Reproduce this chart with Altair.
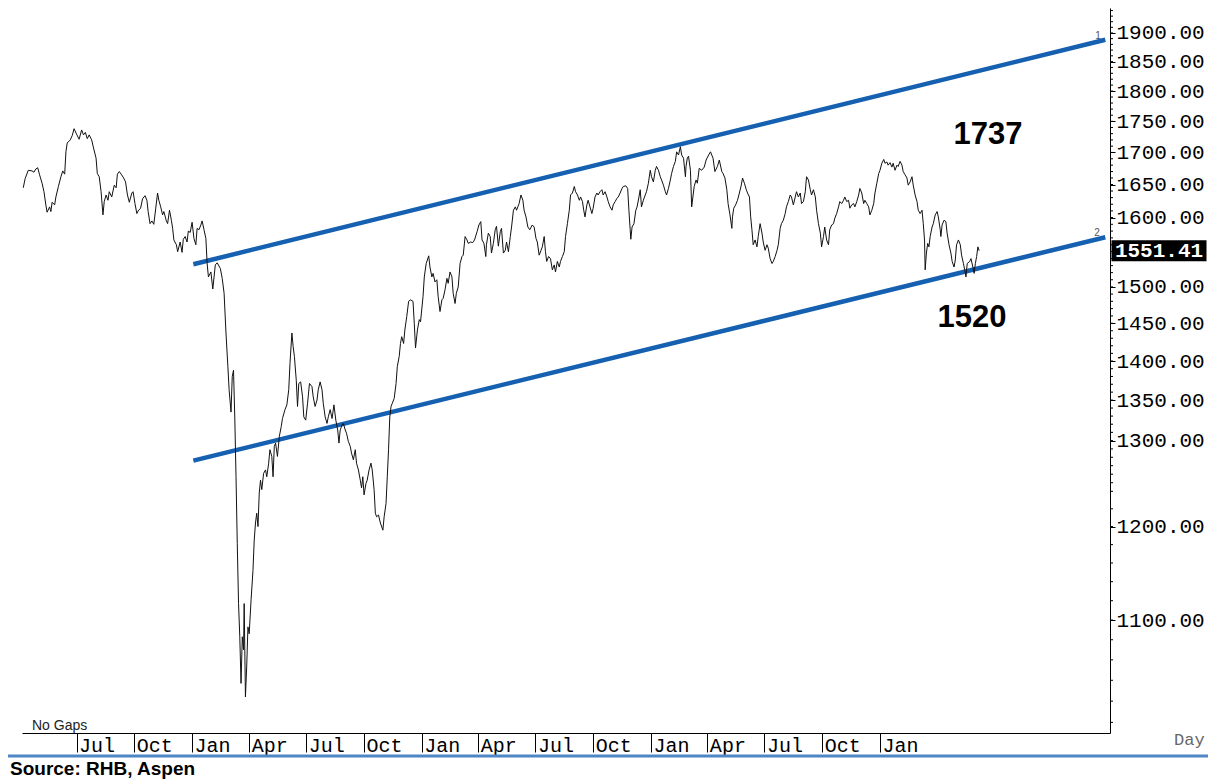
import altair as alt
import pandas as pd

# ---------------- data ----------------
# x positions are calendar-day offsets from 2020-01-01, values are index levels
seg1_days = [-269,-266,-261,-255,-252,-249,-246,-243,-239,-236,-233,-231,-227,-225,-223,-219,-217,-213,-209,-206,
             -203,-201,-199,-194,-191,-188,-184,-180,-176,-173,-170,-167,-164,-160,-157,-153,-151,-148,-145,-142,
             -140,-137,-134,-132,-128,-124,-121,-119,-116,-113,-109,-106,-103,-100,-96,-94,-91,-88,-86,-82,
             -79,-75,-72,-70,-67,-64,-61,-58,-55,-53,-50,-47,-45,-41,-39,-36,-33,-31,-29,-25,
             -23,-19,-16,-14,-11,-8,-6,-3,0,3,6,8,11,14,16,19,22]
seg1_vals = [1645,1659,1672,1671,1669,1674,1676,1665,1652,1639,1619,1608,1616,1609,1623,1619,1631,1647,1662,1671,
             1666,1701,1715,1720,1727,1738,1729,1721,1736,1728,1732,1722,1728,1720,1707,1691,1667,1662,1639,1604,
             1624,1634,1626,1639,1631,1649,1645,1666,1670,1666,1660,1654,1634,1623,1637,1639,1621,1606,1610,1614,
             1628,1633,1626,1609,1591,1595,1590,1613,1637,1626,1616,1604,1609,1595,1591,1611,1596,1584,1567,1560,
             1550,1564,1549,1568,1572,1564,1580,1578,1593,1569,1560,1584,1582,1589,1595,1582,1569]

seg2_days = [24,26,30,33,37,40,45,48,51,54,57,59,62,64,66,68,70,72,74,76,
             78,80,82,83,85,87,89,91,94,97,99,101,103,105,107,109,111,114,117,119,
             122,124,127,129,131,133,136,139,142,144,148,151,154,156,159,161,163,166,168,170,
             173,176,178,181,184,187,191,193,196,199,201,204,207,209,212,215,217,220,223,226,
             229,232,234,236,239,241,244,246,249,252,254,257,260,262,265,268,270,272,274,277,
             279,282,285,287,290,292,294,297,300,304,306,309,311,313,315,317,319,322,325,327,
             330,332]
seg2_vals = [1533,1514,1521,1497,1531,1534,1526,1512,1491,1437,1393,1363,1335,1380,1388,1329,1257,1181,1117,1083,
             1037,1083,1070,1117,1024,1053,1093,1086,1121,1152,1185,1204,1215,1200,1238,1253,1242,1261,1265,1257,
             1273,1289,1281,1257,1293,1297,1281,1305,1317,1327,1338,1344,1363,1397,1437,1419,1406,1375,1342,1371,
             1373,1354,1329,1325,1346,1371,1367,1354,1342,1350,1363,1373,1363,1346,1329,1321,1329,1338,1327,1344,
             1325,1313,1297,1313,1319,1321,1313,1309,1299,1293,1285,1277,1289,1273,1265,1253,1244,1257,1236,1249,
             1253,1265,1273,1265,1242,1215,1211,1213,1204,1196,1211,1226,1257,1289,1329,1342,1346,1352,1371,1393,
             1406,1423]

seg3_days = [334,337,339,342,345,348,352,354,356,359,362,364,368,370,373,377,379,382,384,387,
             390,392,395,398,400,403,406,408,411,414,416,419,421,424,427,430,432,435,438,440,
             444,447,450,454,457,460,462,465,468,469,472,475,477,480,483,485,488,491,493,496,
             499,501,504,507,509,512,515,517,521,524,527,529,532,535,538,542,545,548,550,553,
             556,558,561,563,565,568,571,574,577,579,582,585,587,590,593,595,598,601,603,606,
             609,611,614,617,619,622,624,626,629,631,634,637,639,642,645,647,650,653,655,658,
             661,663,666,669,671,674,677,679,682,685,687,691,694,696,698,699,701,704,707,709,
             712,714,716,719,722,724,727,730,732,735,738,740,743,746,748,751,754,756,759,762,
             764,767,770,772,775,778,780,783,786,787,789,791,794]
seg3_vals = [1432,1423,1441,1459,1480,1482,1480,1450,1417,1441,1455,1452,1487,1514,1533,1544,1528,1514,1519,1507,
             1510,1487,1466,1482,1484,1496,1512,1505,1521,1514,1491,1477,1491,1500,1533,1543,1545,1572,1567,1562,
             1564,1563,1567,1579,1589,1594,1567,1562,1543,1560,1577,1572,1548,1562,1582,1587,1558,1579,1584,1548,
             1552,1564,1550,1572,1586,1611,1616,1611,1621,1634,1626,1611,1601,1586,1582,1589,1586,1569,1564,1545,
             1552,1557,1572,1550,1536,1543,1540,1524,1531,1521,1536,1528,1536,1543,1550,1572,1591,1611,1634,1637,
             1647,1639,1634,1626,1631,1624,1611,1601,1619,1626,1616,1606,1614,1631,1637,1634,1639,1642,1634,1639,
             1631,1624,1616,1611,1619,1624,1629,1631,1637,1644,1647,1648,1644,1611,1582,1568,1586,1591,1611,1616,
             1631,1642,1616,1626,1634,1639,1652,1672,1662,1654,1672,1678,1672,1662,1657,1649,1639,1634,1644,1657,
             1667,1678,1686,1701,1696,1709,1696,1691,1662,1678,1691,1694,1672]

seg4_days = [796,800,803,805,808,812,816,819,823,826,830,833,837,840,844,846,849,852,854,857,
             860,861,863,866,869,872,875,877,880,883,885,888,890,892,894,897,900,902,905,908,
             910,913,916,918,921,924,926,929,932,934,937,939,942,945,947,950,953,955,958,961,
             963,966,969,971,974,977,979,982,985,987,990,993,995,998,1001,1003,1006,1008,1011,1014,
             1016,1019,1022,1024,1027,1030,1032,1035,1038,1040,1043,1046,1048,1051,1054,1056,1059,1062,1064,1067,
             1070,1072,1075,1078,1080,1083,1086,1088,1091,1094,1096,1099,1102,1104,1107,1109,1112,1115,1117,1120,
             1123,1125,1128,1131,1133,1136,1139,1141,1144,1147,1149,1152,1155,1157,1160,1163,1165,1167,1168,1170,
             1172,1174,1176,1179,1181,1184,1187,1189,1192,1193,1195,1198,1201,1203,1206,1209,1211,1214,1216,1218,
             1221,1224,1226,1229,1231,1233,1235,1239,1241,1244,1246,1248,1250,1252,1254]
seg4_vals = [1616,1647,1657,1652,1675,1672,1677,1688,1696,1701,1691,1670,1678,1688,1670,1667,1660,1642,1621,1604,
             1584,1601,1614,1619,1626,1637,1649,1660,1652,1642,1637,1631,1601,1582,1560,1567,1557,1572,1591,1577,
             1564,1552,1560,1555,1540,1533,1536,1543,1552,1560,1584,1591,1596,1606,1616,1624,1634,1631,1619,1631,
             1639,1631,1637,1621,1624,1639,1662,1657,1642,1634,1642,1631,1611,1591,1577,1557,1572,1586,1567,1560,
             1582,1589,1591,1599,1606,1616,1624,1621,1626,1631,1624,1626,1614,1619,1621,1616,1624,1634,1644,1637,
             1621,1626,1621,1616,1604,1611,1621,1637,1652,1667,1672,1683,1689,1683,1685,1680,1684,1677,1683,1672,
             1680,1678,1686,1680,1670,1665,1660,1649,1654,1662,1649,1634,1624,1611,1606,1611,1591,1567,1524,1548,
             1562,1557,1572,1586,1591,1604,1609,1601,1582,1572,1589,1596,1594,1577,1560,1548,1536,1528,1538,1560,
             1567,1560,1545,1533,1524,1514,1533,1536,1540,1528,1519,1533,1543,1557,1551.41]

last_value = 1551.41

# channel lines (start/end day offsets and levels)
trend_days = [2, 1455]
upper_vals = [1532, 1888]
lower_vals = [1276, 1571]

major_ticks = [1100, 1200, 1300, 1350, 1400, 1450, 1500, 1600, 1650, 1700, 1750, 1800, 1850, 1900]
minor_ticks = list(range(1000, 1250, 20)) + list(range(1250, 1950, 10))

quarters = [(2019, 7), (2019, 10), (2020, 1), (2020, 4), (2020, 7), (2020, 10), (2021, 1), (2021, 4),
            (2021, 7), (2021, 10), (2022, 1), (2022, 4), (2022, 7), (2022, 10), (2023, 1)]

# ---------------- build tables ----------------
days = seg1_days + seg2_days + seg3_days + seg4_days
vals = seg1_vals + seg2_vals + seg3_vals + seg4_vals
assert len(days) == len(vals), (len(days), len(vals))

BASE = pd.Timestamp("2020-01-01")


def to_dates(ds):
    return [(BASE + pd.Timedelta(days=d)).strftime("%Y-%m-%dT%H:%M:%S") for d in ds]


price_df = pd.DataFrame({"date": to_dates(days), "v": vals})
trend_df = pd.DataFrame({
    "date": to_dates(trend_days) * 2,
    "v": upper_vals + lower_vals,
    "line": ["1", "1", "2", "2"],
})
minor_df = pd.DataFrame({"v": minor_ticks})
last_df = pd.DataFrame({"v": [last_value], "t": [f"{last_value:.2f}"]})

W, H = 1088, 725
PAD_L, PAD_R, PAD_B = 14, 98, 48
MONO = "Courier New, Liberation Mono, monospace"
SANS = "Arial, Liberation Sans, sans-serif"

xscale = alt.Scale(domain=[alt.DateTime(year=2019, month=4, date=5),
                           alt.DateTime(year=2024, month=1, date=2, hours=12)])
yscale = alt.Scale(type="log", domain=[990.2, 1944.7], nice=False, zero=False)

x_axis = alt.Axis(values=[alt.DateTime(year=y, month=m, date=1) for y, m in quarters],
                  format="%b", labelAlign="left", labelBaseline="top", labelOffset=2,
                  tickSize=19, labelPadding=-17, tickColor="black", domainColor="black",
                  labelFont=MONO, labelFontSize=20, labelColor="black", grid=False,
                  labelOverlap=False, labelFlush=False)
y_axis = alt.Axis(orient="right", values=major_ticks, format=".2f", tickSize=5, labelPadding=1,
                  tickColor="black", domainColor="black", labelFont=MONO, labelFontSize=21,
                  labelColor="black", grid=False, labelOverlap=False, labelFlush=False)

X = alt.X("date:T", scale=xscale, axis=x_axis, title=None)
Y = alt.Y("v:Q", scale=yscale, axis=y_axis, title=None)

trend = alt.Chart(trend_df).mark_line(color="#1560B0", strokeWidth=4.5, strokeCap="butt").encode(
    x=X, y=Y, detail="line:N",
)

price = alt.Chart(price_df).mark_line(color="#111111", strokeWidth=1).encode(x=X, y=Y)

minor = alt.Chart(minor_df).mark_rule(color="black", strokeWidth=1).encode(
    y=Y, x=alt.value(W), x2=alt.value(W + 3),
)

box = alt.Chart(last_df).mark_tick(color="black", thickness=21, size=95, opacity=1).encode(
    y=Y, x=alt.value(1137),
)
box_text = alt.Chart(last_df).mark_text(color="white", font=MONO, fontSize=21, fontWeight="bold",
                                        align="center", baseline="middle").encode(
    y=Y, x=alt.value(1137), text="t:N",
)


def label(text, x, y, **kw):
    return alt.Chart(pd.DataFrame({"t": [text]})).mark_text(**kw).encode(
        x=alt.value(x), y=alt.value(y), text="t:N")


big = dict(font=SANS, fontSize=31, fontWeight="bold", color="black", align="center", baseline="middle")
ann_1737 = label("1737", 966, 127, **big)
ann_1520 = label("1520", 950, 310, **big)
lab1 = label("1", 1076, 28, font=SANS, fontSize=10, color="#555555", align="center", baseline="middle")
lab2 = label("2", 1075, 225, font=SANS, fontSize=10, color="#555555", align="center", baseline="middle")
nogaps = label("No Gaps", 10, 722, font=SANS, fontSize=14, color="#222222", align="left", baseline="alphabetic")
day = label("Day", 1152, 737, font=MONO, fontSize=17, color="#666666", align="left", baseline="alphabetic")
source = label("Source: RHB, Aspen", -12, 767, font=SANS, fontSize=19, fontWeight="bold",
               color="black", align="left", baseline="alphabetic")

sep = alt.Chart(pd.DataFrame({"a": [0]})).mark_rule(color="#4F86C6", strokeWidth=3).encode(
    x=alt.value(-PAD_L), x2=alt.value(W + PAD_R), y=alt.value(748))

chart = alt.layer(
    trend, price, minor, box, box_text, ann_1737, ann_1520, lab1, lab2, nogaps, day, sep, source
).properties(
    width=W, height=H,
    background="white",
    autosize=alt.AutoSizeParams(type="none"),
    padding={"left": PAD_L, "top": 0, "right": PAD_R, "bottom": PAD_B},
).configure_view(strokeWidth=0)

chart.save("out.html", embed_options={"renderer": "svg", "actions": False})
